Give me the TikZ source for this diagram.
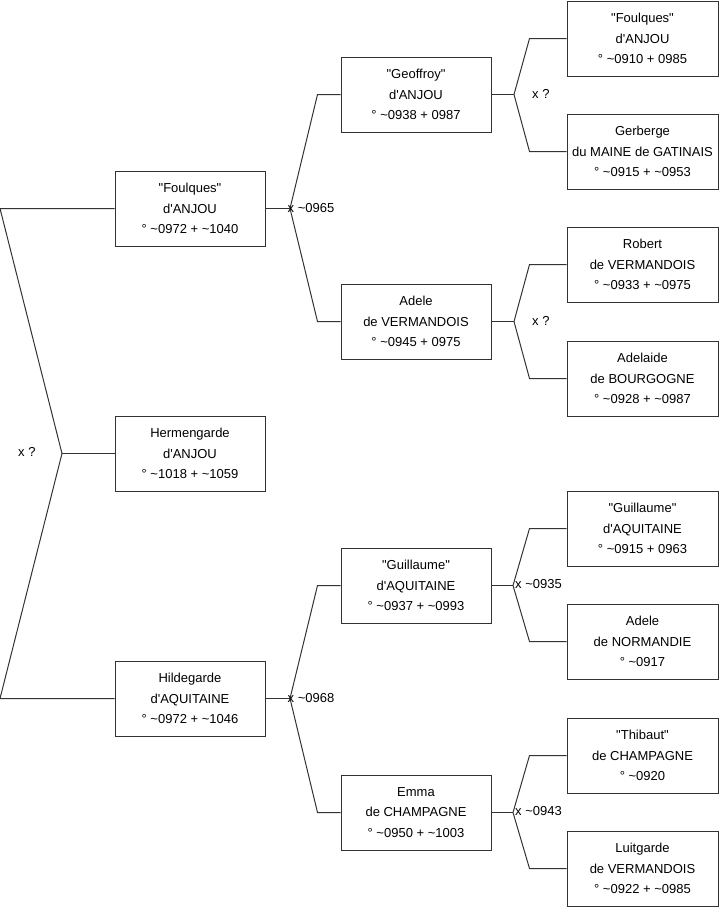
\documentclass[tikz,border=0pt]{standalone}
\usepackage{fontspec}
\setmainfont{Liberation Sans}[Ligatures=TeXOff]
\newcommand\tld{\textasciitilde}
\begin{document}
\begin{tikzpicture}[x=1pt,y=-1pt,
  person/.style={draw=black!80, line width=1pt, minimum width=150pt, minimum height=75pt,
    align=center, font=\fontsize{13}{20.5}\selectfont, inner sep=0pt, fill=white},
  link/.style={draw=black!80, line width=1pt},
  lbl/.style={font=\fontsize{13}{15}\selectfont, inner sep=0pt, anchor=west}]
\useasboundingbox (0,0) rectangle (719,908);
% generation 0
\node[person] (f0) at (190,208.5) {"Foulques"\\d'ANJOU\\° \tld0972 + \tld1040};
\node[person] (h0) at (190,453.5) {Hermengarde\\d'ANJOU\\° \tld1018 + \tld1059};
\node[person] (d0) at (190,698.5) {Hildegarde\\d'AQUITAINE\\° \tld0972 + \tld1046};
% generation 1
\node[person] (g1) at (416,94.5) {"Geoffroy"\\d'ANJOU\\° \tld0938 + 0987};
\node[person] (a1) at (416,321.5) {Adele\\de VERMANDOIS\\° \tld0945 + 0975};
\node[person] (u1) at (416,585.5) {"Guillaume"\\d'AQUITAINE\\° \tld0937 + \tld0993};
\node[person] (e1) at (416,812.5) {Emma\\de CHAMPAGNE\\° \tld0950 + \tld1003};
% generation 2
\tikzset{p2/.style={person, minimum width=151pt}}
\node[p2] (p1) at (642.5,38.5) {"Foulques"\\d'ANJOU\\° \tld0910 + 0985};
\node[p2] (p2) at (642.5,151.5) {Gerberge\\du MAINE de GATINAIS\\° \tld0915 + \tld0953};
\node[p2] (p3) at (642.5,264.5) {Robert\\de VERMANDOIS\\° \tld0933 + \tld0975};
\node[p2] (p4) at (642.5,378.5) {Adelaide\\de BOURGOGNE\\° \tld0928 + \tld0987};
\node[p2] (p5) at (642.5,528.5) {"Guillaume"\\d'AQUITAINE\\° \tld0915 + 0963};
\node[p2] (p6) at (642.5,641.5) {Adele\\de NORMANDIE\\° \tld0917};
\node[p2] (p7) at (642.5,755.5) {"Thibaut"\\de CHAMPAGNE\\° \tld0920};
\node[p2] (p8) at (642.5,868.5) {Luitgarde\\de VERMANDOIS\\° \tld0922 + \tld0985};
% left couple
\coordinate (la) at (0,208.5);
\coordinate (lb) at (0,698.5);
\coordinate (va) at (62,453.5);
\draw[link] (f0.west) -- (la) -- (va) -- (lb) -- (d0.west);
\draw[link] (va) -- (h0.west);
\node[lbl] (xa) at (18,452) {x ?};
% generation 0 -> 1
\coordinate (vb) at (290,208.5);
\draw[link] (f0.east) -- (vb);
\draw[link] (g1.west) -- ([xshift=-23pt]g1.west) -- (vb) -- ([xshift=-23pt]a1.west) -- (a1.west);
\node[lbl] (xb) at (287.5,208.5) {x \tld0965};
\coordinate (vc) at (290,698.5);
\draw[link] (d0.east) -- (vc);
\draw[link] (u1.west) -- ([xshift=-23pt]u1.west) -- (vc) -- ([xshift=-23pt]e1.west) -- (e1.west);
\node[lbl] (xc) at (287.5,698.5) {x \tld0968};
% generation 1 -> 2
\coordinate (vd) at (514,94.5);
\draw[link] (g1.east) -- (vd);
\draw[link] (p1.west) -- ([xshift=-37pt]p1.west) -- (vd) -- ([xshift=-37pt]p2.west) -- (p2.west);
\node[lbl] (xd) at (532,93.5) {x ?};
\coordinate (ve) at (514,321.5);
\draw[link] (a1.east) -- (ve);
\draw[link] (p3.west) -- ([xshift=-37pt]p3.west) -- (ve) -- ([xshift=-37pt]p4.west) -- (p4.west);
\node[lbl] (xe) at (532,320.5) {x ?};
\coordinate (vf) at (513,585.5);
\draw[link] (u1.east) -- (vf);
\draw[link] (p5.west) -- ([xshift=-37pt]p5.west) -- (vf) -- ([xshift=-37pt]p6.west) -- (p6.west);
\node[lbl] (xf) at (515,584.5) {x \tld0935};
\coordinate (vg) at (513,812.5);
\draw[link] (e1.east) -- (vg);
\draw[link] (p7.west) -- ([xshift=-37pt]p7.west) -- (vg) -- ([xshift=-37pt]p8.west) -- (p8.west);
\node[lbl] (xg) at (515,811.5) {x \tld0943};
\end{tikzpicture}
\end{document}
